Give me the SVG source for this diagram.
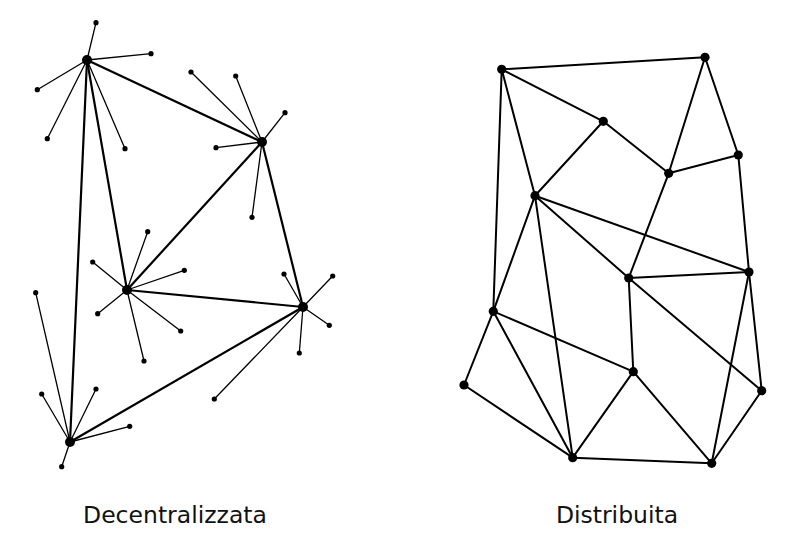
<svg xmlns="http://www.w3.org/2000/svg" width="800" height="541" viewBox="0 0 800 541">
<style>
.hub{stroke:#000;stroke-width:2.2;stroke-linecap:round}
.leaf{stroke:#000;stroke-width:1.3;stroke-linecap:round}
.net{stroke:#000;stroke-width:2;stroke-linecap:round}
.hd{fill:#000}
.ld{fill:#000}
.lbl{font-family:"DejaVu Sans",sans-serif;font-size:23.5px;fill:#111;text-anchor:middle}
</style>
<rect width="800" height="541" fill="#fff"/>
<g id="connectors">
  <g id="decentral-links">
    <line class="hub" x1="87" y1="60" x2="262" y2="142"/>
    <line class="hub" x1="87" y1="60" x2="127" y2="290"/>
    <line class="hub" x1="87" y1="60" x2="70" y2="442"/>
    <line class="hub" x1="262" y1="142" x2="127" y2="290"/>
    <line class="hub" x1="262" y1="142" x2="303" y2="307"/>
    <line class="hub" x1="127" y1="290" x2="303" y2="307"/>
    <line class="hub" x1="70" y1="442" x2="303" y2="307"/>
    <line class="leaf" x1="87" y1="60" x2="96" y2="22.7"/>
    <line class="leaf" x1="87" y1="60" x2="151" y2="53.7"/>
    <line class="leaf" x1="87" y1="60" x2="37.3" y2="89.7"/>
    <line class="leaf" x1="87" y1="60" x2="47.3" y2="138.7"/>
    <line class="leaf" x1="87" y1="60" x2="125" y2="148.7"/>
    <line class="leaf" x1="262" y1="142" x2="191" y2="72"/>
    <line class="leaf" x1="262" y1="142" x2="235.7" y2="76"/>
    <line class="leaf" x1="262" y1="142" x2="285" y2="112.7"/>
    <line class="leaf" x1="262" y1="142" x2="216" y2="147.7"/>
    <line class="leaf" x1="262" y1="142" x2="252" y2="217.3"/>
    <line class="leaf" x1="127" y1="290" x2="147.7" y2="231.7"/>
    <line class="leaf" x1="127" y1="290" x2="92.7" y2="262"/>
    <line class="leaf" x1="127" y1="290" x2="184.3" y2="270.3"/>
    <line class="leaf" x1="127" y1="290" x2="97.7" y2="313.7"/>
    <line class="leaf" x1="127" y1="290" x2="180.7" y2="331"/>
    <line class="leaf" x1="127" y1="290" x2="144" y2="361"/>
    <line class="leaf" x1="303" y1="307" x2="284" y2="274"/>
    <line class="leaf" x1="303" y1="307" x2="332.7" y2="276"/>
    <line class="leaf" x1="303" y1="307" x2="329.3" y2="325.3"/>
    <line class="leaf" x1="303" y1="307" x2="299.3" y2="353"/>
    <line class="leaf" x1="303" y1="307" x2="214.3" y2="399"/>
    <line class="leaf" x1="70" y1="442" x2="35.7" y2="292.7"/>
    <line class="leaf" x1="70" y1="442" x2="41.7" y2="394"/>
    <line class="leaf" x1="70" y1="442" x2="96" y2="389"/>
    <line class="leaf" x1="70" y1="442" x2="129.7" y2="426.3"/>
    <line class="leaf" x1="70" y1="442" x2="61.7" y2="466.7"/>
  </g>
  <g id="distrib-links">
    <line class="net" x1="501.7" y1="69.3" x2="705" y2="57.3"/>
    <line class="net" x1="501.7" y1="69.3" x2="603.3" y2="121.3"/>
    <line class="net" x1="501.7" y1="69.3" x2="535" y2="195.7"/>
    <line class="net" x1="501.7" y1="69.3" x2="493.3" y2="311.3"/>
    <line class="net" x1="705" y1="57.3" x2="668.7" y2="173.3"/>
    <line class="net" x1="705" y1="57.3" x2="738.3" y2="155"/>
    <line class="net" x1="603.3" y1="121.3" x2="668.7" y2="173.3"/>
    <line class="net" x1="603.3" y1="121.3" x2="535" y2="195.7"/>
    <line class="net" x1="668.7" y1="173.3" x2="738.3" y2="155"/>
    <line class="net" x1="668.7" y1="173.3" x2="628.7" y2="278"/>
    <line class="net" x1="738.3" y1="155" x2="749" y2="272"/>
    <line class="net" x1="535" y1="195.7" x2="749" y2="272"/>
    <line class="net" x1="535" y1="195.7" x2="628.7" y2="278"/>
    <line class="net" x1="535" y1="195.7" x2="493.3" y2="311.3"/>
    <line class="net" x1="535" y1="195.7" x2="572.7" y2="457.7"/>
    <line class="net" x1="628.7" y1="278" x2="749" y2="272"/>
    <line class="net" x1="628.7" y1="278" x2="633.3" y2="371.7"/>
    <line class="net" x1="628.7" y1="278" x2="761.7" y2="390.7"/>
    <line class="net" x1="749" y1="272" x2="711.7" y2="463.3"/>
    <line class="net" x1="749" y1="272" x2="761.7" y2="390.7"/>
    <line class="net" x1="493.3" y1="311.3" x2="633.3" y2="371.7"/>
    <line class="net" x1="493.3" y1="311.3" x2="572.7" y2="457.7"/>
    <line class="net" x1="493.3" y1="311.3" x2="464" y2="385"/>
    <line class="net" x1="464" y1="385" x2="572.7" y2="457.7"/>
    <line class="net" x1="633.3" y1="371.7" x2="572.7" y2="457.7"/>
    <line class="net" x1="633.3" y1="371.7" x2="711.7" y2="463.3"/>
    <line class="net" x1="572.7" y1="457.7" x2="711.7" y2="463.3"/>
    <line class="net" x1="761.7" y1="390.7" x2="711.7" y2="463.3"/>
  </g>
</g>
<g id="hubA"><circle class="hd" cx="87" cy="60" r="5"/></g>
<g id="hubB"><circle class="hd" cx="262" cy="142" r="5"/></g>
<g id="hubC"><circle class="hd" cx="127" cy="290" r="5"/></g>
<g id="hubD"><circle class="hd" cx="303" cy="307" r="5"/></g>
<g id="hubE"><circle class="hd" cx="70" cy="442" r="5"/></g>
<g id="leaves">
  <circle class="ld" cx="96" cy="22.7" r="2.6"/>
  <circle class="ld" cx="151" cy="53.7" r="2.6"/>
  <circle class="ld" cx="37.3" cy="89.7" r="2.6"/>
  <circle class="ld" cx="47.3" cy="138.7" r="2.6"/>
  <circle class="ld" cx="125" cy="148.7" r="2.6"/>
  <circle class="ld" cx="191" cy="72" r="2.6"/>
  <circle class="ld" cx="235.7" cy="76" r="2.6"/>
  <circle class="ld" cx="285" cy="112.7" r="2.6"/>
  <circle class="ld" cx="216" cy="147.7" r="2.6"/>
  <circle class="ld" cx="252" cy="217.3" r="2.6"/>
  <circle class="ld" cx="147.7" cy="231.7" r="2.6"/>
  <circle class="ld" cx="92.7" cy="262" r="2.6"/>
  <circle class="ld" cx="184.3" cy="270.3" r="2.6"/>
  <circle class="ld" cx="97.7" cy="313.7" r="2.6"/>
  <circle class="ld" cx="180.7" cy="331" r="2.6"/>
  <circle class="ld" cx="144" cy="361" r="2.6"/>
  <circle class="ld" cx="284" cy="274" r="2.6"/>
  <circle class="ld" cx="332.7" cy="276" r="2.6"/>
  <circle class="ld" cx="329.3" cy="325.3" r="2.6"/>
  <circle class="ld" cx="299.3" cy="353" r="2.6"/>
  <circle class="ld" cx="214.3" cy="399" r="2.6"/>
  <circle class="ld" cx="35.7" cy="292.7" r="2.6"/>
  <circle class="ld" cx="41.7" cy="394" r="2.6"/>
  <circle class="ld" cx="96" cy="389" r="2.6"/>
  <circle class="ld" cx="129.7" cy="426.3" r="2.6"/>
  <circle class="ld" cx="61.7" cy="466.7" r="2.6"/>
</g>
<g id="n1"><circle class="hd" cx="501.7" cy="69.3" r="4.6"/></g>
<g id="n2"><circle class="hd" cx="705" cy="57.3" r="4.6"/></g>
<g id="n3"><circle class="hd" cx="603.3" cy="121.3" r="4.6"/></g>
<g id="n4"><circle class="hd" cx="738.3" cy="155" r="4.6"/></g>
<g id="n5"><circle class="hd" cx="668.7" cy="173.3" r="4.6"/></g>
<g id="n6"><circle class="hd" cx="535" cy="195.7" r="4.6"/></g>
<g id="n7"><circle class="hd" cx="749" cy="272" r="4.6"/></g>
<g id="n8"><circle class="hd" cx="628.7" cy="278" r="4.6"/></g>
<g id="n9"><circle class="hd" cx="493.3" cy="311.3" r="4.6"/></g>
<g id="n10"><circle class="hd" cx="633.3" cy="371.7" r="4.6"/></g>
<g id="n11"><circle class="hd" cx="464" cy="385" r="4.6"/></g>
<g id="n12"><circle class="hd" cx="761.7" cy="390.7" r="4.6"/></g>
<g id="n13"><circle class="hd" cx="572.7" cy="457.7" r="4.6"/></g>
<g id="n14"><circle class="hd" cx="711.7" cy="463.3" r="4.6"/></g>
<text class="lbl" x="175" y="523">Decentralizzata</text>
<text class="lbl" x="617" y="523">Distribuita</text>
</svg>
